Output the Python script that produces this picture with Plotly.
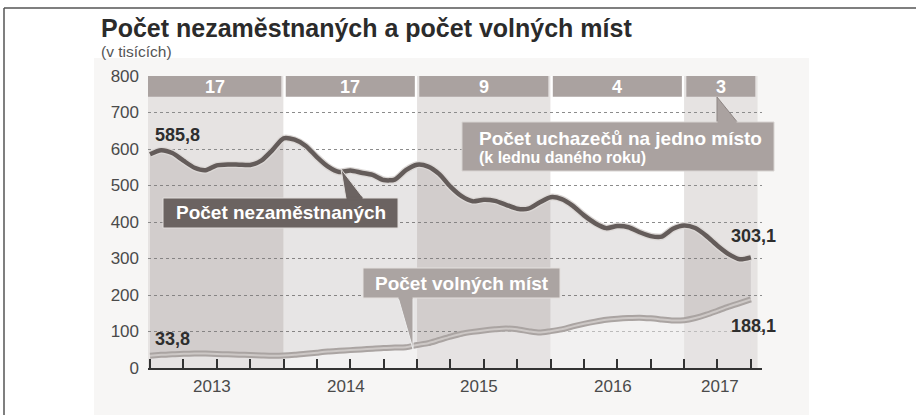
import plotly.graph_objects as go

# ---------------- data ----------------
months = [f"{y}-{m:02d}" for y in range(2013, 2018) for m in range(1, 13)][:55]

unemployed = [
    585.8, 596.8, 589.0, 568.1, 548.6, 541.7, 555.3, 557.8, 557.1, 556.3, 568.0, 596.8,
    629.3, 625.4, 608.4, 577.7, 551.4, 536.8, 541.0, 535.1, 529.2, 515.0, 516.1, 541.9,
    556.8, 551.8, 531.1, 496.8, 470.6, 456.6, 460.9, 458.0, 447.2, 436.4, 436.5, 453.1,
    467.8, 462.8, 444.2, 418.2, 396.8, 383.2, 388.9, 385.7, 372.0, 361.3, 360.0, 381.4,
    390.7, 383.4, 362.0, 335.0, 312.0, 297.8, 303.1,
]
vacancies = [
    33.8, 36.0, 38.0, 39.0, 40.0, 39.5, 38.5, 37.5, 36.5, 35.5, 34.5, 33.5,
    34.0, 36.0, 39.0, 42.0, 45.0, 47.0, 49.0, 51.0, 53.0, 55.0, 56.0, 57.0,
    63.0, 68.0, 77.0, 86.0, 94.0, 99.0, 103.0, 106.0, 108.0, 106.0, 101.0, 97.0,
    101.0, 106.0, 114.0, 121.0, 127.0, 132.0, 135.0, 137.0, 138.0, 136.0, 133.0, 130.0,
    131.0, 137.0, 146.0, 157.0, 168.0, 178.0, 188.1,
]
years = ["2013", "2014", "2015", "2016", "2017"]
applicants_per_job = ["17", "17", "9", "4", "3"]
y_ticks = [0, 100, 200, 300, 400, 500, 600, 700, 800]

title = "Počet nezaměstnaných a počet volných míst"
subtitle = "(v tisících)"
label_unemp = "Počet nezaměstnaných"
label_vac = "Počet volných míst"
label_ratio1 = "Počet uchazečů na jedno místo"
label_ratio2 = "(k lednu daného roku)"

# ---------------- layout helpers ----------------
W, H = 916, 415
PL, PR, PT, PB = 148, 762, 76, 368   # plot area in pixels
X_RANGE = [-0.18, 55.0]


def px(xp):
    return xp / W


def py(yp):
    return 1 - yp / H


def fmt(v):
    return f"{v:.1f}".replace(".", ",")


x = list(range(len(months)))
quarter_ticks = [i for i, m in enumerate(months) if int(m[5:]) in (1, 4, 7, 10)]
year_start = {y: next(i for i, m in enumerate(months) if m.startswith(y)) for y in years}

FONT = "Liberation Sans, Arial, sans-serif"
SM = dict(shape="spline", smoothing=0.7)
fig = go.Figure()

# filled areas
fig.add_trace(go.Scatter(x=x, y=unemployed, mode="lines", line=dict(width=0, **SM),
                         fill="tozeroy", fillcolor="rgba(105,95,92,0.16)", hoverinfo="skip", showlegend=False))
fig.add_trace(go.Scatter(x=x, y=vacancies, mode="lines", line=dict(width=0, **SM),
                         fill="tozeroy", fillcolor="rgba(255,255,255,0.45)", hoverinfo="skip", showlegend=False))
# vacancy line (double)
fig.add_trace(go.Scatter(x=x, y=vacancies, mode="lines",
                         line=dict(color="#aaa4a2", width=6, **SM), showlegend=False))
fig.add_trace(go.Scatter(x=x, y=vacancies, mode="lines",
                         line=dict(color="#cdc8c6", width=2, **SM), showlegend=False))
# unemployment line with light halo
fig.add_trace(go.Scatter(x=x, y=unemployed, mode="lines",
                         line=dict(color="#dcd8d6", width=7, **SM), showlegend=False))
fig.add_trace(go.Scatter(x=x, y=unemployed, mode="lines",
                         line=dict(color="#645c5a", width=4.5, **SM), showlegend=False))

shapes = []
# faint background panel and frame
shapes.append(dict(type="rect", xref="paper", yref="paper", x0=px(94), x1=px(809), y0=py(415), y1=py(58),
                   fillcolor="#f7f6f5", line=dict(width=0), layer="below"))
shapes.append(dict(type="line", xref="paper", yref="paper", x0=px(4), x1=px(916), y0=py(8), y1=py(8),
                   line=dict(color="#555", width=1.5)))
shapes.append(dict(type="line", xref="paper", yref="paper", x0=px(4), x1=px(4), y0=py(8), y1=py(415),
                   line=dict(color="#555", width=1.5)))

# alternating year bands and header boxes
ends = [year_start[y] for y in years[1:]] + [54.6]
box_spans = []
for k, yname in enumerate(years):
    s = year_start[yname] if k > 0 else X_RANGE[0]
    e = ends[k]
    shapes.append(dict(type="rect", xref="x", yref="y", x0=s, x1=e, y0=0, y1=800,
                       fillcolor="#e6e3e2" if k % 2 == 0 else "#ffffff", line=dict(width=0), layer="below"))
    bx0 = s if k == 0 else s + 0.2
    bx1 = e - 0.2 if k < len(years) - 1 else 54.4
    box_spans.append((bx0, bx1))
    shapes.append(dict(type="rect", xref="x", yref="y", x0=bx0, x1=bx1, y0=743, y1=800,
                       fillcolor="#aaa2a0", line=dict(width=0), layer="above"))


def tri(pts, color, lc):
    path = "M " + " L ".join(f"{px(a)},{py(b)}" for a, b in pts) + " Z"
    return dict(type="path", xref="paper", yref="paper", path=path, fillcolor=color,
                line=dict(color=lc, width=1), layer="above")


def box(x0, y0, x1, y1, color, lc):
    return dict(type="rect", xref="paper", yref="paper", x0=px(x0), x1=px(x1), y0=py(y1), y1=py(y0),
                fillcolor=color, line=dict(color=lc, width=1), layer="above")


shapes.append(tri([(341, 169), (346, 199), (364, 199)], "#6b6361", "#e2dedc"))
shapes.append(box(163, 198, 398, 228, "#6b6361", "#e2dedc"))
shapes.append(tri([(717, 97), (717, 123), (738, 123)], "#aaa2a0", "#8d8583"))
shapes.append(box(462, 122, 774, 171, "#aaa2a0", "#d8d4d2"))
shapes.append(tri([(398, 297), (413, 297), (413, 349)], "#aba4a2", "#eeeeee"))
shapes.append(box(363, 268, 560, 298, "#aba4a2", "#e4e0de"))
# cover triangle bases so they merge with boxes
shapes.append(box(347, 197, 362, 200, "#6b6361", "#6b6361"))
shapes.append(box(718, 121, 736, 124, "#aaa2a0", "#aaa2a0"))
shapes.append(box(399, 296, 412, 299, "#aba4a2", "#aba4a2"))


def ptext(xp, yp, text, size, color, xanchor="center", bold=False):
    return dict(xref="paper", yref="paper", x=px(xp), y=py(yp), xanchor=xanchor, yanchor="middle",
                text=f"<b>{text}</b>" if bold else text, showarrow=False,
                font=dict(family=FONT, size=size, color=color))


annotations = []
annotations.append(ptext(99, 28, title, 25, "#2b2b2b", "left", True))
annotations.append(ptext(99, 52, subtitle, 15.5, "#555", "left"))
# header numbers and year labels
for k, yname in enumerate(years):
    bx0, bx1 = box_spans[k]
    annotations.append(dict(x=(bx0 + bx1) / 2, y=771, xref="x", yref="y", xanchor="center", yanchor="middle",
                            text=f"<b>{applicants_per_job[k]}</b>", showarrow=False,
                            font=dict(family=FONT, size=18, color="#ffffff")))
    annotations.append(dict(x=(year_start[yname] + ends[k]) / 2 - (0.4 if k < 4 else 0.1),
                            y=py(386), xref="x", yref="paper", xanchor="center", yanchor="middle",
                            text=yname, showarrow=False, font=dict(family=FONT, size=17, color="#4a4a4a")))
# callout texts
annotations.append(ptext(280.5, 213, label_unemp, 19, "#ffffff", "center", True))
annotations.append(ptext(461.5, 283, label_vac, 19, "#ffffff", "center", True))
annotations.append(ptext(477, 138, label_ratio1, 19, "#ffffff", "left", True))
annotations.append(ptext(477, 157, label_ratio2, 16, "#ffffff", "left", True))
# value labels
vfont = dict(family=FONT, size=18, color="#2e2e2e")
annotations.append(dict(x=x[0], y=unemployed[0], text=f"<b>{fmt(unemployed[0])}</b>", showarrow=False,
                        xanchor="left", yanchor="middle", xshift=3, yshift=19, font=vfont))
annotations.append(dict(x=x[0], y=vacancies[0], text=f"<b>{fmt(vacancies[0])}</b>", showarrow=False,
                        xanchor="left", yanchor="middle", xshift=3, yshift=17, font=vfont))
annotations.append(dict(x=x[-1], y=unemployed[-1], text=f"<b>{fmt(unemployed[-1])}</b>", showarrow=False,
                        xanchor="right", yanchor="middle", xshift=27, yshift=21, font=vfont))
annotations.append(dict(x=x[-1], y=vacancies[-1], text=f"<b>{fmt(vacancies[-1])}</b>", showarrow=False,
                        xanchor="right", yanchor="middle", xshift=27, yshift=-27, font=vfont))

fig.update_layout(
    width=W, height=H, margin=dict(l=0, r=0, t=0, b=0, pad=0, autoexpand=False),
    paper_bgcolor="#ffffff", plot_bgcolor="rgba(0,0,0,0)",
    showlegend=False, shapes=shapes, annotations=annotations,
    xaxis=dict(domain=[px(PL), px(PR)], range=X_RANGE, tickvals=quarter_ticks, automargin=False,
               ticktext=["" for _ in quarter_ticks], ticks="inside", ticklen=9, tickwidth=2, tickcolor="#333",
               showgrid=False, zeroline=False, showline=True, linecolor="#333", linewidth=2, fixedrange=True),
    yaxis=dict(domain=[py(PB), py(PT)], range=[0, 800], tickvals=y_ticks, ticks="", automargin=False,
               showgrid=True, gridcolor="#8c8c8c", griddash="dot", gridwidth=1, zeroline=False,
               showline=False, ticklabelstandoff=8,
               tickfont=dict(family=FONT, size=17, color="#4a4a4a"), fixedrange=True),
)

fig.write_html("out.html", config={"displayModeBar": False},
               post_script="document.body.style.margin='0';document.body.style.overflow='hidden';")
